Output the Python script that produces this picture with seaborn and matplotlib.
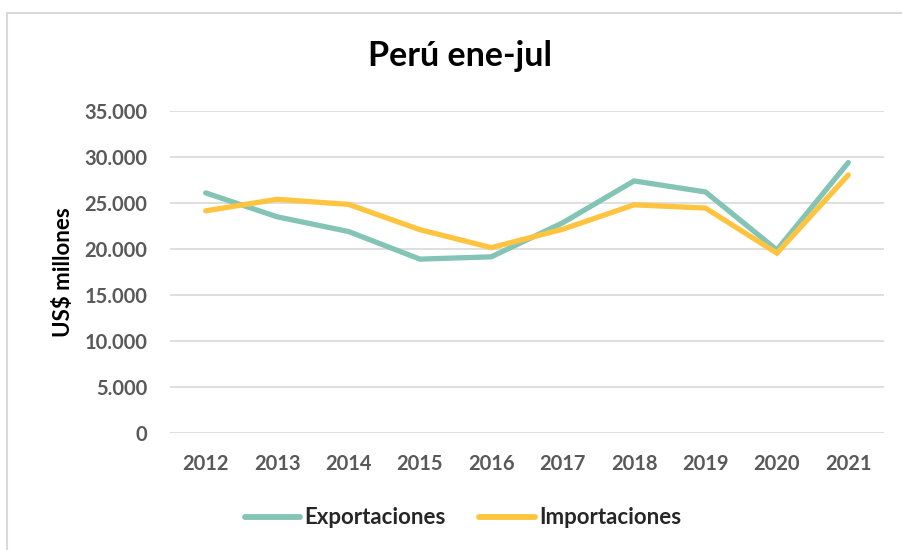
import pandas as pd
import matplotlib.pyplot as plt
import seaborn as sns
from matplotlib.ticker import FuncFormatter
from matplotlib.lines import Line2D

# ============================================================
# 데이터
# ============================================================
years = [2012, 2013, 2014, 2015, 2016, 2017, 2018, 2019, 2020, 2021]
exportaciones = [26100, 23500, 21900, 18900, 19150, 22850, 27400, 26200, 19900, 29400]
importaciones = [24150, 25400, 24850, 22100, 20150, 22150, 24800, 24450, 19550, 28050]
series_names = ["Exportaciones", "Importaciones"]
colors = {"Exportaciones": "#84C4B6", "Importaciones": "#FFC43F"}

df = pd.DataFrame({"año": years * 2,
                   "valor": exportaciones + importaciones,
                   "serie": [series_names[0]] * len(years) + [series_names[1]] * len(years)})

# ============================================================
# 기본 설정
# ============================================================
sns.set_style("white")
plt.rcParams["font.family"] = ["Lato", "DejaVu Sans"]

fig = plt.figure(figsize=(9.02, 5.5), dpi=100)
ax = fig.add_axes([170 / 902, (550 - 433) / 550, (884 - 170) / 902, (433 - 111) / 550])

sns.lineplot(data=df, x="año", y="valor", hue="serie", palette=colors,
             linewidth=3.8, ax=ax, legend=False)
for line in ax.get_lines():
    line.set_solid_capstyle("round")
    line.set_solid_joinstyle("miter")

ax.set_xlim(2011.5, 2021.5)
ax.set_ylim(0, 35000)
ax.set_xticks(years)
ax.set_yticks(range(0, 35001, 5000))
ax.yaxis.set_major_formatter(FuncFormatter(lambda v, p: f"{int(v):,}".replace(",", ".")))
ax.grid(axis="y", color="#D9D9D9", linewidth=1.2)
ax.set_axisbelow(True)
for s in ax.spines.values():
    s.set_visible(False)
ax.tick_params(axis="both", length=0, labelsize=14.5, labelcolor="#595959")
ax.tick_params(axis="y", pad=16.5)
ax.tick_params(axis="x", pad=15)
for lbl in ax.get_xticklabels() + ax.get_yticklabels():
    lbl.set_fontweight("bold")

ax.set_xlabel("")
ax.set_ylabel("US$ millones", fontsize=16, fontweight="bold", color="black", labelpad=7)

fig.text(460 / 902, 1 - 56 / 550, "Perú ene-jul", ha="center", va="center",
         fontsize=24.5, fontweight="bold", color="black")

# 범례
handles = [Line2D([0], [0], color=colors[n], linewidth=4.2, solid_capstyle="round") for n in series_names]
leg = fig.legend(handles, series_names, loc="center", bbox_to_anchor=(463 / 902, 1 - 518 / 550),
                 ncol=2, frameon=False, handlelength=2.5, handletextpad=0.2, columnspacing=1.5,
                 prop={"size": 16, "weight": "bold"})

# 외곽 테두리 (왼쪽, 위쪽)
fig.add_artist(Line2D([6.5 / 902, 6.5 / 902], [0, 1 - 12.5 / 550], color="#D9D9D9", linewidth=1.5))
fig.add_artist(Line2D([6.5 / 902, 1], [1 - 12.5 / 550, 1 - 12.5 / 550], color="#D9D9D9", linewidth=1.5))

fig.savefig("out.png", dpi=100)
